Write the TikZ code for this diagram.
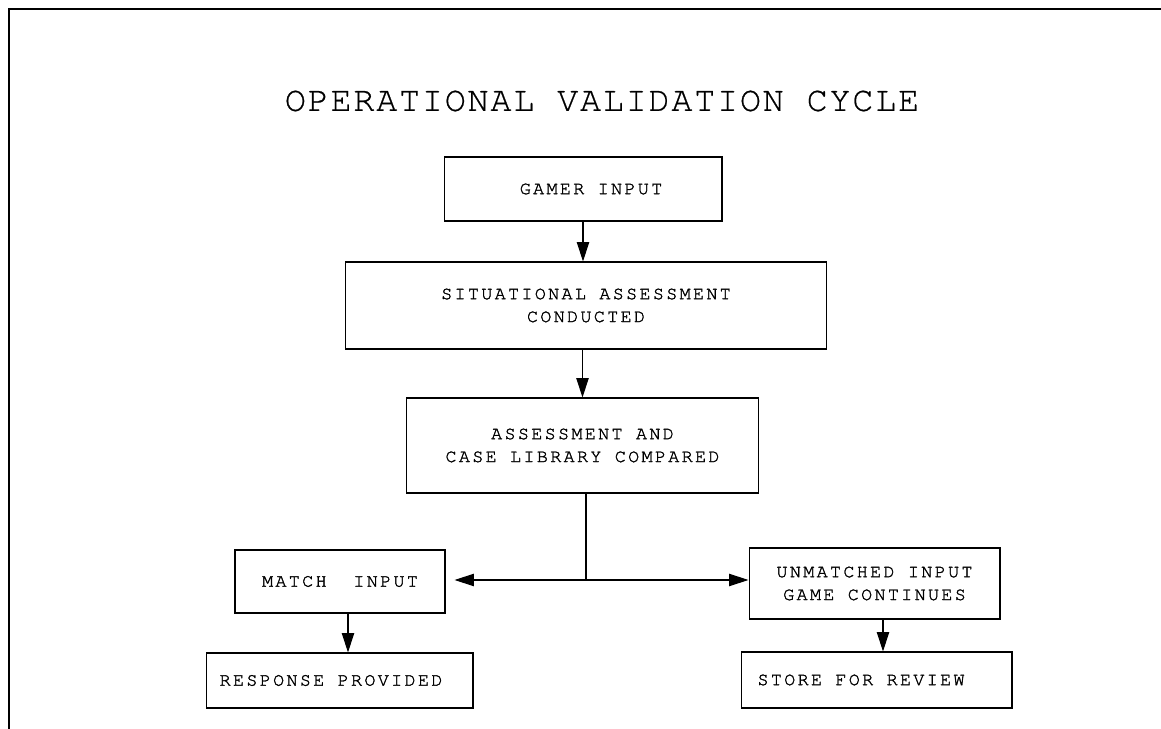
\documentclass[tikz,border=0pt]{standalone}
\usepackage{fontspec}
\newfontfamily\boxfont{texgyrecursor-regular.otf}[LetterSpace=12.5, FakeBold=1.5]
\newfontfamily\titlefont{texgyrecursor-regular.otf}[LetterSpace=5, FakeBold=0.6]
\usepackage{tikz}
\usetikzlibrary{positioning,arrows.meta,calc}

\begin{document}
\begin{tikzpicture}[x=0.02cm,y=-0.02cm,->,>={Triangle[length=11pt,width=7pt]},line width=0.6pt]
  \tikzstyle{block}=[draw, rectangle, inner sep=0pt, align=center, font=\boxfont\fontsize{10.5}{13}\selectfont]
  \useasboundingbox (0,0) rectangle (1161,729);
  \draw[-, line width=1.2pt] (9,729) -- (9,9) -- (1161,9);
  \node[font=\titlefont\fontsize{20}{24}\selectfont] (title) at (602,101) {OPERATIONAL VALIDATION CYCLE};
  \node[block, minimum width=5.56cm, minimum height=1.28cm] (gamer) at (583,189) {\kern0.32cm GAMER INPUT};
  \node[block, minimum width=9.64cm, minimum height=1.74cm] (situ) at (586,305.5) {SITUATIONAL ASSESSMENT\\CONDUCTED};
  \node[block, minimum width=7.06cm, minimum height=1.90cm] (compare) at (582.5,445.5) {ASSESSMENT AND\\CASE LIBRARY COMPARED};
  \node[block, minimum width=4.20cm, minimum height=1.26cm] (match) at (340,581.5) {MATCH\ \ INPUT};
  \node[block, minimum width=5.34cm, minimum height=1.10cm] (response) at (339.5,680.5) {RESPONSE PROVIDED\kern0.34cm};
  \node[block, minimum width=5.02cm, minimum height=1.42cm] (unmatched) at (874.5,583.5) {UNMATCHED INPUT\\GAME CONTINUES};
  \node[block, minimum width=5.42cm, minimum height=1.12cm] (store) at (876.5,680) {STORE FOR REVIEW\kern0.62cm};
  \coordinate (split) at (586,580);
  \path (gamer.south) edge (gamer.south |- situ.north)
        (compare.north |- situ.south) edge (compare.north)
        (split |- compare.south) edge[-] (split)
        ([xshift=0.16cm]match.south) edge ([xshift=0.16cm]match.south |- response.north)
        ([xshift=0.17cm]unmatched.south) edge ([xshift=0.17cm]unmatched.south |- store.north);
  \draw[<->, shorten <=0.18cm] (match.east |- split) -- (unmatched.west |- split);
\end{tikzpicture}
\end{document}
